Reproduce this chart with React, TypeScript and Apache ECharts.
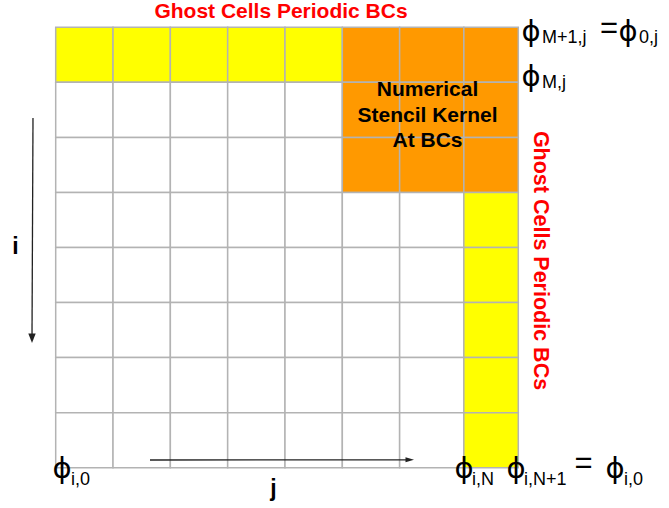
import React, { useEffect, useRef } from "react";
import * as echarts from "echarts";

// Column widths in cell units (the last two columns are slightly irregular in the picture)
const colWidths = [1, 1, 1, 1, 1, 1, 1.12, 0.95];
// Cell kinds per row, top to bottom: W = interior, Y = ghost cell, O = stencil kernel
const cellRows = [
  "YYYYYOOO",
  "WWWWWOOO",
  "WWWWWOOO",
  "WWWWWWWY",
  "WWWWWWWY",
  "WWWWWWWY",
  "WWWWWWWY",
  "WWWWWWWY",
];
const kindNames = ["W", "Y", "O"];
const kindColors = ["#ffffff", "#ffff00", "#ff9900"];

const topTitle = "Ghost Cells Periodic BCs";
const sideTitle = "Ghost Cells Periodic BCs";
const kernelLines = ["Numerical", "Stencil Kernel", "At BCs"];
const iLabel = "i";
const jLabel = "j";
const phiChar = "\u03D5";

const GRID_COLOR = "#b3b3b3";
const RED = "#ff0000";
const BOLD = 'bold 21px "Liberation Sans", Arial, sans-serif';
const PHI_FONT = '29px "DejaVu Sans", sans-serif';
const SUB_FONT = '18px "Liberation Sans", Arial, sans-serif';
const EQ_FONT = '31px "Liberation Sans", Arial, sans-serif';

function buildCells() {
  const edges: number[] = [0];
  colWidths.forEach((w) => edges.push(edges[edges.length - 1] + w));
  const cells: number[][] = [];
  cellRows.forEach((row, r) => {
    row.split("").forEach((k, c) => {
      cells.push([edges[c], edges[c + 1], r, r + 1, kindNames.indexOf(k)]);
    });
  });
  return { cells, total: edges[edges.length - 1] };
}

function txt(x: number, y: number, text: string, font: string, opts: any = {}) {
  return {
    type: "text",
    x,
    y,
    z: 100,
    rotation: opts.rotation || 0,
    style: {
      text,
      font,
      fill: opts.fill || "#000000",
      align: opts.align || "left",
      verticalAlign: "middle",
      lineHeight: opts.lineHeight,
    },
  };
}

function phi(x: number, y: number, sub: string, sx: number, sy: number) {
  return [txt(x, y, phiChar, PHI_FONT), txt(sx, sy, sub, SUB_FONT)];
}

export default function App() {
  const ref = useRef<HTMLDivElement>(null);
  useEffect(() => {
    if (!ref.current) return;
    const chart = echarts.init(ref.current, null, { renderer: "svg" });
    const { cells, total } = buildCells();
    const graphic: any[] = [
      txt(281, 10, topTitle, BOLD, { fill: RED, align: "center" }),
      txt(541, 260.5, sideTitle, 'bold 21.5px "Liberation Sans", Arial, sans-serif', { fill: RED, align: "center", rotation: -Math.PI / 2 }),
      txt(427.5, 114, kernelLines.join("\n"), BOLD, { align: "center", lineHeight: 25.5 }),
      txt(15.5, 246, iLabel, 'bold 23px "Liberation Sans", Arial, sans-serif', { align: "center" }),
      txt(273.5, 488, jLabel, 'bold 23px "Liberation Sans", Arial, sans-serif', { align: "center" }),
      // arrows
      { type: "line", z: 100, shape: { x1: 33, y1: 118, x2: 32, y2: 336 }, style: { stroke: "#222", lineWidth: 1.3 } },
      { type: "polygon", z: 100, shape: { points: [[28.3, 333.5], [35.7, 333.5], [32, 343]] }, style: { fill: "#222" } },
      { type: "line", z: 100, shape: { x1: 150, y1: 460, x2: 407, y2: 459.8 }, style: { stroke: "#222", lineWidth: 1.3 } },
      { type: "polygon", z: 100, shape: { points: [[405.5, 457.3], [405.5, 462.3], [414, 459.8]] }, style: { fill: "#222" } },
      // phi labels
      ...phi(521.5, 31, "M+1,j", 542, 36.5),
      txt(609, 27.5, "=", EQ_FONT, { align: "center" }),
      ...phi(618.5, 31, "0,j", 639, 36.5),
      ...phi(521.5, 76, "M,j", 542, 81.5),
      ...phi(52.5, 468, "i,0", 71, 478.5),
      ...phi(454.5, 468, "i,N", 472, 478.5),
      ...phi(506.5, 468, "i,N+1", 524, 478.5),
      txt(583.5, 462, "=", EQ_FONT, { align: "center" }),
      ...phi(605.5, 468, "i,0", 624, 478.5),
    ];
    chart.setOption({
      animation: false,
      grid: { left: 55.7, top: 27.3, width: 462.6, height: 440.4, show: false },
      xAxis: { type: "value", min: 0, max: total, show: false },
      yAxis: { type: "value", min: 0, max: cellRows.length, inverse: true, show: false },
      series: [
        {
          type: "custom",
          coordinateSystem: "cartesian2d",
          encode: { x: [0, 1], y: [2, 3] },
          data: cells,
          z: 1,
          renderItem: (params: any, api: any) => {
            const p0 = api.coord([api.value(0), api.value(2)]);
            const p1 = api.coord([api.value(1), api.value(3)]);
            return {
              type: "rect",
              shape: { x: p0[0], y: p0[1], width: p1[0] - p0[0], height: p1[1] - p0[1] },
              style: { fill: kindColors[api.value(4)], stroke: GRID_COLOR, lineWidth: 1.5 },
            };
          },
        },
      ],
      graphic: { elements: graphic, z: 100 },
    });
    return () => chart.dispose();
  }, []);
  return (
    <div
      ref={ref}
      style={{ position: "fixed", left: 0, top: 0, width: 669, height: 508, background: "#fff" }}
    />
  );
}
